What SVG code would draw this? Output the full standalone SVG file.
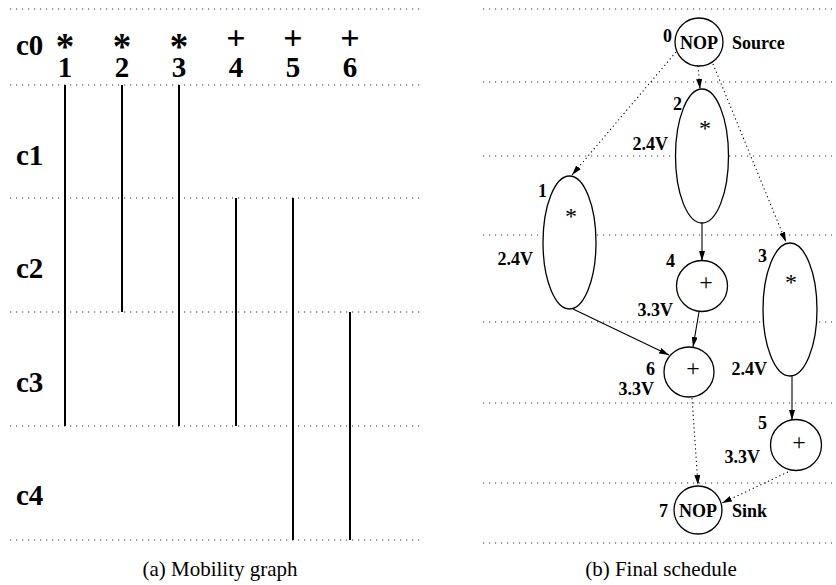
<svg xmlns="http://www.w3.org/2000/svg" width="836" height="585" viewBox="0 0 836 585">
<style>
.grid{stroke:#333;stroke-width:1.2;stroke-dasharray:1.2 4.8;fill:none}
.mob{stroke:#000;stroke-width:2;fill:none}
.lbl{font-family:"Liberation Serif",serif;font-weight:bold;fill:#000}
.big{font-size:29px}
.ast{font-size:37px}
.pls{font-size:34px}
.nl{font-size:18px}
.op{font-family:"Liberation Serif",serif;font-size:24px;fill:#000;text-anchor:middle}
.node{fill:#fff;stroke:#000;stroke-width:1.3}
.solid{stroke:#000;stroke-width:1.1;fill:none}
.dot{stroke:#000;stroke-width:1.1;fill:none;stroke-dasharray:1.2 3}
.cap{font-family:"Liberation Serif",serif;font-size:21px;fill:#000;text-anchor:middle}
</style>
<defs>
<marker id="ah" viewBox="0 0 10 6" refX="10" refY="3" markerWidth="10" markerHeight="6" markerUnits="userSpaceOnUse" orient="auto">
<path d="M0,0 L10,3 L0,6 z" fill="#000"/>
</marker>
</defs>
<rect width="836" height="585" fill="#fff"/>
<g id="mobility-grid">
<line class="grid" x1="10" y1="9" x2="420" y2="9"/>
<line class="grid" x1="10" y1="85" x2="420" y2="85"/>
<line class="grid" x1="10" y1="198" x2="420" y2="198"/>
<line class="grid" x1="10" y1="312" x2="420" y2="312"/>
<line class="grid" x1="10" y1="426" x2="420" y2="426"/>
<line class="grid" x1="10" y1="540" x2="420" y2="540"/>
</g>
<g id="mobility-labels" class="lbl">
<g class="big">
<text x="16" y="55">c0</text>
<text x="16" y="165">c1</text>
<text x="16" y="278">c2</text>
<text x="16" y="392">c3</text>
<text x="16" y="505">c4</text>
</g>
<g text-anchor="middle" class="ast">
<text x="65" y="59">*</text><text x="122" y="59">*</text><text x="179" y="59">*</text>
</g>
<g text-anchor="middle" class="pls">
<text x="236" y="49">+</text><text x="293" y="49">+</text><text x="350" y="49">+</text>
</g>
<g text-anchor="middle" class="big">
<text x="65" y="77">1</text><text x="122" y="77">2</text><text x="179" y="77">3</text>
<text x="236" y="77">4</text><text x="293" y="77">5</text><text x="350" y="77">6</text>
</g>
</g>
<g id="mobility-bars">
<line class="mob" x1="65" y1="85" x2="65" y2="426"/>
<line class="mob" x1="122" y1="85" x2="122" y2="312"/>
<line class="mob" x1="179" y1="85" x2="179" y2="426"/>
<line class="mob" x1="236" y1="198" x2="236" y2="426"/>
<line class="mob" x1="293" y1="198" x2="293" y2="540"/>
<line class="mob" x1="350" y1="312" x2="350" y2="540"/>
</g>
<g id="schedule-grid">
<line class="grid" x1="483" y1="9" x2="832" y2="9"/>
<line class="grid" x1="483" y1="82" x2="832" y2="82"/>
<line class="grid" x1="483" y1="156" x2="832" y2="156"/>
<line class="grid" x1="483" y1="235" x2="832" y2="235"/>
<line class="grid" x1="483" y1="322" x2="832" y2="322"/>
<line class="grid" x1="483" y1="403" x2="832" y2="403"/>
<line class="grid" x1="483" y1="483" x2="832" y2="483"/>
<line class="grid" x1="483" y1="543" x2="832" y2="543"/>
</g>
<g id="connectors">
<line class="dot" x1="676" y1="52" x2="572" y2="175" marker-end="url(#ah)"/>
<line class="dot" x1="698" y1="66" x2="700" y2="89" marker-end="url(#ah)"/>
<line class="dot" x1="713" y1="64" x2="786" y2="242" marker-end="url(#ah)"/>
<line class="solid" x1="702" y1="223" x2="702" y2="261" marker-end="url(#ah)"/>
<line class="solid" x1="573" y1="309" x2="669" y2="355" marker-end="url(#ah)"/>
<line class="solid" x1="699" y1="312" x2="693" y2="347" marker-end="url(#ah)"/>
<line class="solid" x1="792" y1="376" x2="792" y2="420" marker-end="url(#ah)"/>
<line class="dot" x1="692" y1="398" x2="698" y2="485" marker-end="url(#ah)"/>
<line class="dot" x1="788" y1="472" x2="722" y2="503" marker-end="url(#ah)"/>
</g>
<g id="n0">
<circle class="node" cx="699" cy="42" r="24"/>
<text class="lbl nl" x="699" y="49" text-anchor="middle">NOP</text>
<text class="lbl nl" x="663" y="42">0</text>
<text class="lbl nl" x="732" y="49">Source</text>
</g>
<g id="n2">
<ellipse class="node" cx="702" cy="156" rx="26.5" ry="67"/>
<text class="op" x="705" y="136">*</text>
<text class="lbl nl" x="673" y="110">2</text>
<text class="lbl nl" x="668" y="150" text-anchor="end">2.4V</text>
</g>
<g id="n1">
<ellipse class="node" cx="569.5" cy="242.5" rx="26.5" ry="66.5"/>
<text class="op" x="571" y="224">*</text>
<text class="lbl nl" x="538" y="197">1</text>
<text class="lbl nl" x="533" y="265" text-anchor="end">2.4V</text>
</g>
<g id="n4">
<circle class="node" cx="702" cy="286" r="25.5"/>
<text class="op" x="706" y="290">+</text>
<text class="lbl nl" x="666" y="267">4</text>
<text class="lbl nl" x="673" y="316" text-anchor="end">3.3V</text>
</g>
<g id="n3">
<ellipse class="node" cx="790" cy="309.5" rx="27" ry="66.5"/>
<text class="op" x="791" y="290">*</text>
<text class="lbl nl" x="758" y="262">3</text>
<text class="lbl nl" x="767" y="375" text-anchor="end">2.4V</text>
</g>
<g id="n6">
<circle class="node" cx="689" cy="372" r="25"/>
<text class="op" x="693" y="376">+</text>
<text class="lbl nl" x="646" y="375">6</text>
<text class="lbl nl" x="654" y="395" text-anchor="end">3.3V</text>
</g>
<g id="n5">
<circle class="node" cx="796" cy="445" r="25.5"/>
<text class="op" x="799" y="450">+</text>
<text class="lbl nl" x="758" y="429">5</text>
<text class="lbl nl" x="760" y="463" text-anchor="end">3.3V</text>
</g>
<g id="n7">
<circle class="node" cx="698" cy="510" r="24"/>
<text class="lbl nl" x="698" y="517" text-anchor="middle">NOP</text>
<text class="lbl nl" x="659" y="517">7</text>
<text class="lbl nl" x="732" y="517">Sink</text>
</g>
<g id="captions">
<text class="cap" x="220" y="576">(a)  Mobility graph</text>
<text class="cap" x="661" y="576">(b)  Final schedule</text>
</g>
</svg>
